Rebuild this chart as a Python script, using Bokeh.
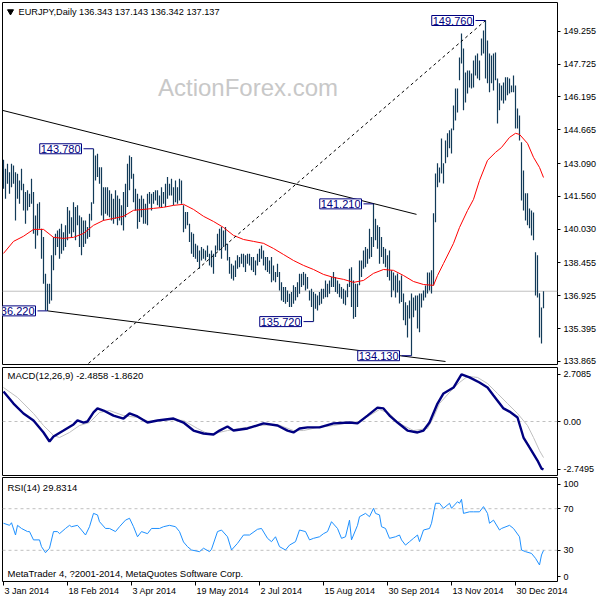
from bokeh.plotting import figure
from bokeh.layouts import column
from bokeh.models import (ColumnDataSource, Span, Label, FixedTicker, NumeralTickFormatter,
                          CustomJSTickFormatter, LinearAxis, Range1d)
from bokeh.embed import file_html
from bokeh.resources import INLINE

# ---------------- data ----------------
highs = [143.27,142.85,143.08,142.69,143.08,143.00,142.69,142.61,142.30,142.85,
         142.15,141.76,141.84,141.68,142.38,141.76,140.67,141.22,141.29,140.05,
         139.66,137.95,137.49,137.49,138.81,139.66,139.82,139.97,140.05,140.28,
         139.89,140.21,141.06,140.90,140.59,141.29,141.06,141.14,140.67,140.59,
         140.44,140.44,140.13,140.75,141.29,143.78,143.47,143.55,142.92,142.92,
         141.99,141.99,141.99,141.84,141.68,141.45,141.84,141.60,141.45,141.14,
         141.76,142.15,143.08,143.47,143.39,142.61,141.92,141.68,141.45,141.60,
         141.45,141.22,141.68,141.76,141.68,141.76,141.84,141.84,141.60,141.99,
         141.76,142.15,142.46,142.15,142.38,141.99,142.30,141.99,142.38,142.30,
         141.14,140.83,140.83,140.28,139.89,139.82,139.35,139.27,139.04,139.20,
         139.12,139.04,139.27,138.88,139.04,138.88,139.27,139.82,140.05,140.13,
         139.97,140.13,139.35,138.73,138.42,138.34,138.57,138.81,138.73,138.88,
         138.88,138.81,138.88,138.88,138.73,138.73,138.57,138.88,139.12,139.27,
         139.04,138.73,138.73,138.57,138.73,138.34,138.03,138.42,138.03,137.56,
         137.33,137.33,137.17,137.02,137.10,137.41,137.33,137.56,137.95,137.95,
         138.03,137.95,137.80,137.17,137.25,137.10,137.02,136.94,137.10,137.25,
         137.25,137.64,137.49,137.64,137.80,138.03,137.80,137.64,137.49,137.33,
         137.25,137.17,137.49,138.19,138.26,137.64,137.49,137.49,138.57,138.57,
         139.04,139.20,139.12,140.05,139.66,141.21,140.52,140.21,140.13,139.66,
         139.20,139.12,138.81,139.04,138.11,138.01,137.87,137.96,137.64,137.87,
         137.03,136.62,136.48,136.71,137.03,136.85,136.94,136.94,137.03,137.03,
         137.17,137.40,138.01,138.01,138.11,140.77,142.63,143.10,142.91,144.26,
         143.10,144.17,144.50,144.64,144.73,145.80,146.59,146.59,148.04,149.16,
         148.46,147.34,147.43,147.43,147.29,147.90,148.13,148.22,147.90,148.92,
         149.30,149.76,148.83,148.22,148.13,148.22,148.27,147.06,146.83,146.73,
         146.87,147.11,147.11,147.06,146.73,147.20,146.73,145.66,145.33,144.08,
         142.77,141.70,141.70,141.00,140.90,140.81,138.95,138.81,137.04,136.38,
         137.14]
lows = [141.92,141.45,142.15,141.68,141.99,142.15,140.44,141.45,141.22,141.84,
        140.90,140.28,140.90,141.06,141.22,139.82,139.12,139.74,140.05,138.65,
        137.49,136.24,136.22,136.55,136.71,138.11,138.81,139.20,138.65,138.88,
        139.04,139.20,139.51,139.82,139.66,139.89,139.51,140.21,139.20,138.81,
        139.20,139.35,139.58,139.66,140.44,141.22,142.30,142.46,142.15,140.67,
        140.44,140.75,140.67,140.59,140.44,140.28,140.52,140.21,140.44,140.21,
        139.97,140.59,141.06,141.84,142.38,141.29,140.90,140.05,140.36,140.59,
        140.28,140.28,140.21,141.22,140.90,141.22,141.37,141.14,141.06,141.06,
        141.22,141.06,141.45,141.60,141.60,141.14,141.29,141.22,141.37,141.22,
        139.89,140.05,140.21,139.43,138.88,138.73,138.65,138.50,138.19,138.57,
        138.65,138.57,138.73,138.34,138.26,137.95,138.73,139.04,139.04,138.65,
        139.20,139.04,138.57,137.95,137.72,137.64,137.80,138.19,138.26,138.42,
        138.26,138.03,138.42,138.34,138.11,138.03,137.88,138.34,138.50,138.65,
        138.34,138.11,138.03,137.95,137.56,137.64,137.56,137.80,137.17,136.71,
        136.63,136.55,136.63,136.40,136.40,136.55,136.71,136.86,137.02,137.33,
        137.41,137.17,137.25,136.71,136.40,135.72,136.32,136.24,136.48,136.55,
        136.79,136.86,136.86,137.02,137.33,137.33,137.10,137.02,136.86,136.79,
        136.55,136.48,136.86,137.33,136.40,135.85,135.93,136.40,137.41,137.80,
        138.19,138.26,138.42,138.65,138.73,139.20,139.51,139.12,138.42,138.73,
        138.42,138.26,137.80,137.64,136.86,137.17,136.85,137.08,136.57,136.63,
        135.78,135.55,134.98,135.87,134.13,135.92,136.24,135.40,135.22,136.38,
        136.71,136.85,137.03,137.17,137.03,137.40,140.35,141.98,142.21,142.63,
        142.16,143.10,143.38,143.80,143.56,144.64,145.10,145.47,146.97,147.76,
        145.57,145.94,146.36,146.64,146.59,146.64,147.20,147.06,146.97,148.13,
        148.22,147.06,146.83,146.41,146.83,146.50,146.97,144.96,145.57,146.03,
        145.89,146.03,146.27,146.36,146.41,146.41,144.73,144.73,144.17,141.37,
        140.90,140.44,140.21,140.07,139.74,139.51,136.94,136.85,134.98,134.70,
        136.34]

ma_idx = [0,5,10,15,20,25,30,35,40,45,50,55,60,65,70,75,80,85,90,95,100,105,110,115,
          120,125,130,135,140,145,150,155,160,165,170,175,180,185,190,195,200,205,210,
          215,217,220,225,228,232,235,238,242,246,249,253,256,258,262,265,268,270]
ma_val = [138.90,139.46,139.70,140.02,140.02,139.65,139.60,139.65,139.83,140.21,140.44,
          140.53,140.63,140.91,140.95,141.00,141.05,141.14,141.19,140.95,140.63,140.39,
          140.11,139.74,139.55,139.46,139.37,139.13,138.85,138.57,138.34,138.15,137.92,
          137.78,137.69,137.55,137.64,137.97,138.15,138.11,137.87,137.59,137.45,137.41,
          137.87,138.43,139.37,140.11,140.90,141.42,142.30,143.24,143.61,143.84,144.31,
          144.50,144.45,144.03,143.38,142.91,142.44]

macd_idx = [0,5,10,15,20,23,25,30,35,37,40,42,45,47,50,55,60,63,67,72,77,85,90,95,100,
            105,108,112,115,122,130,137,142,145,148,152,158,165,173,177,182,187,190,193,
            197,202,207,210,213,217,220,225,229,233,238,242,245,250,253,257,260,263,267,
            269,270]
macd_val = [1.72,1.03,0.46,0.06,-0.63,-1.15,-0.86,-0.52,-0.17,0.06,-0.06,0.0,0.52,0.75,
            0.63,0.34,0.17,0.46,0.29,-0.06,0.06,0.17,-0.06,-0.52,-0.69,-0.75,-0.52,-0.29,
            -0.52,-0.40,-0.11,-0.23,-0.52,-0.63,-0.40,-0.34,-0.34,-0.11,-0.06,-0.11,0.34,
            0.80,0.75,0.34,-0.06,-0.52,-0.63,-0.52,-0.06,1.03,1.61,1.95,2.71,2.53,2.24,
            1.95,1.49,0.75,0.57,0.23,-0.92,-1.49,-2.24,-2.70,-2.75]
sig_idx = [0,7,15,20,25,28,33,38,43,48,53,60,67,73,82,90,97,103,112,118,128,137,145,150,
           157,165,173,178,183,188,193,198,205,212,215,218,223,228,232,237,242,247,252,
           257,262,265,268,270]
sig_val = [1.95,1.38,0.46,-0.23,-0.80,-0.92,-0.63,-0.23,-0.06,0.52,0.63,0.34,0.23,0.0,
           0.11,0.06,-0.40,-0.75,-0.52,-0.40,-0.23,-0.17,-0.52,-0.52,-0.34,-0.23,-0.06,
           0.0,0.34,0.69,0.46,-0.11,-0.52,-0.40,0.23,1.03,1.67,2.24,2.59,2.53,2.18,1.61,
           1.03,0.46,-0.23,-0.92,-1.67,-2.07]

rsi_idx = [0,3,4,6,7,9,12,13,15,18,19,21,23,25,27,28,31,33,34,37,39,41,43,45,47,48,51,53,
           56,58,61,63,65,67,69,72,74,78,80,83,86,88,90,92,94,98,100,103,104,107,109,112,
           114,117,120,123,127,129,132,134,136,138,141,143,146,148,151,153,155,158,160,
           162,164,167,169,171,173,174,177,178,181,183,185,186,188,189,191,193,196,198,
           199,201,203,205,207,208,210,213,214,216,218,220,223,224,227,228,229,230,233,
           235,238,240,242,243,245,248,249,253,255,258,259,261,264,266,268,269,270]
rsi_val = [56,54,56.5,44.7,54,51,48,48,40,40,33.5,27.7,32,48,48,46,51,54,52.7,54,49.5,
           44.7,52.7,65.5,64,57.5,51,51,48,52.7,59,60.8,52.7,43,48,46,51,51,52.7,54,52.7,
           48,38,33.5,30.3,28.7,32,28.7,31,48,49.5,43,30.3,36.7,44.7,44.7,50.2,51,41.5,
           38.3,43,33.5,30.3,35,38.3,49.5,48,40,41.5,43,46,48,57.5,51,41.5,43,59,40,54,
           62.3,65.5,62.3,70.4,65.5,64,52.7,51,41.5,43,44.7,40,35,38.3,41.5,44.7,38.3,
           49.5,51,56,75.2,75.2,70.4,75.2,70.4,76.7,75.2,79,65.5,67,67,67,72,65.5,56,59,
           49.5,51,54,51,43,30.3,28.7,27,22.3,15.9,25.5,29.8]

# trend lines (bar index, price)
tl_x0 = [-0.5, 22, 42.5]
tl_y0 = [145.57, 136.22, 133.77]
tl_x1 = [206.5, 221, 241]
tl_y1 = [140.72, 133.86, 149.76]

# annotated highs / lows
ann_idx = [45, 241, 185, 155, 204, 22]
ann_val = [143.78, 149.76, 141.21, 135.72, 134.13, 136.22]
ann_txt = ["143.780", "149.760", "141.210", "135.720", "134.130", "136.220"]

price_ticks = [149.255, 147.725, 146.195, 144.665, 143.090, 141.560, 140.030, 138.455,
               136.925, 135.395, 133.865]
macd_ticks = [2.7085, 0.0, -2.7495]
last_price = 137.137

date_idx = [0, 32, 64, 96, 128, 160, 192, 224, 256]
date_lbl = ["3 Jan 2014", "18 Feb 2014", "3 Apr 2014", "19 May 2014", "2 Jul 2014",
            "15 Aug 2014", "30 Sep 2014", "13 Nov 2014", "30 Dec 2014"]
# approximate label widths (px) so the text can start just right of its tick
date_w = [44.5, 50.5, 44, 52, 41.5, 51, 51, 51, 51]

# ---------------- styling ----------------
FONT = "Liberation Sans"
BAR_C = "#123a58"
NAVY = "#000080"
PX_PER_BAR = 2.0

XR = Range1d(-0.5, 277.0)


def make_fig(h, y0, y1, top, bottom):
    p = figure(width=600, height=h, x_range=XR, y_range=Range1d(y0, y1),
               output_backend="svg", toolbar_location=None,
               x_axis_location=None, y_axis_location="right",
               min_border_left=2, min_border_right=43,
               min_border_top=top, min_border_bottom=bottom)
    p.xgrid.visible = False
    p.ygrid.visible = False
    p.outline_line_color = "black"
    p.outline_line_width = 1
    p.background_fill_color = "white"
    p.border_fill_color = "white"
    ax = p.yaxis[0]
    ax.axis_line_color = None
    ax.major_tick_out = 3
    ax.major_tick_in = 0
    ax.minor_tick_out = 0
    ax.minor_tick_in = 0
    ax.major_tick_line_color = "black"
    ax.major_label_standoff = 3
    ax.major_label_text_font = FONT
    ax.major_label_text_font_size = "9px"
    ax.major_label_text_color = "black"
    return p


# ---- main price panel ----
p1 = make_fig(365, 133.72, 150.60, 2, 1)
p1.yaxis[0].ticker = FixedTicker(ticks=price_ticks)
p1.yaxis[0].formatter = NumeralTickFormatter(format="0.000")

p1.add_layout(Span(location=last_price, dimension="width", line_color="#c0c0c0",
                   line_width=1, level="underlay"))

idx = list(range(len(highs)))
bars = ColumnDataSource(dict(i=idx, h=highs, l=lows))
p1.segment(x0="i", y0="l", x1="i", y1="h", source=bars, line_color=BAR_C, line_width=1.2)
p1.line(ma_idx, ma_val, line_color="red", line_width=1)

p1.segment(x0=tl_x0[:2], y0=tl_y0[:2], x1=tl_x1[:2], y1=tl_y1[:2],
           line_color="black", line_width=1)
p1.segment(x0=tl_x0[2:], y0=tl_y0[2:], x1=tl_x1[2:], y1=tl_y1[2:],
           line_color="black", line_width=1, line_dash="3 3")

for i, v, t in zip(ann_idx, ann_val, ann_txt):
    p1.segment(x0=[i - 5], y0=[v], x1=[i], y1=[v], line_color=NAVY, line_width=1)
    p1.add_layout(Label(x=i - 5, y=v, x_offset=-2, text=t, text_align="right",
                        text_baseline="middle", text_font=FONT, text_font_size="11px",
                        text_color=NAVY, background_fill_color="white",
                        border_line_color=NAVY, border_line_width=1, padding=1))

p1.scatter([3.5], [150.18], marker="inverted_triangle", size=6, fill_color="black",
           line_color="black")
p1.add_layout(Label(x=-0.5, y=150.18, x_offset=16, text_baseline="middle",
                    text="EURJPY,Daily  136.343 137.143 136.342 137.137",
                    text_font=FONT, text_font_size="9.2px", text_color="black"))
p1.add_layout(Label(x=77.25, y=146.62, text="ActionForex.com", text_baseline="alphabetic",
                    text_font=FONT, text_font_size="24px", text_color="#c8c8c8"))
p1.add_layout(Label(x=277.0, y=last_price, x_offset=2, text="137.137",
                    text_baseline="middle", text_font=FONT, text_font_size="9.5px",
                    text_color="white", background_fill_color="black", padding=1))

# ---- MACD panel ----
p2 = make_fig(111, -3.10, 3.10, 2, 1)
p2.yaxis[0].ticker = FixedTicker(ticks=macd_ticks)
p2.yaxis[0].formatter = CustomJSTickFormatter(
    code="return tick == 0 ? '0.00' : tick.toFixed(4);")
p2.add_layout(Span(location=0, dimension="width", line_color="#c0c0c0", line_width=1,
                   line_dash="3 3", level="underlay"))
p2.line(sig_idx, sig_val, line_color="#c0c0c0", line_width=1)
p2.line(macd_idx, macd_val, line_color=NAVY, line_width=2.4)
p2.add_layout(Label(x=-0.5, y=2.64, x_offset=5, text_baseline="middle",
                    text="MACD(12,26,9) -2.4858 -1.8620", text_font=FONT,
                    text_font_size="9.5px", text_color="black"))

# ---- RSI panel ----
p3 = make_fig(124, 0, 100, 1, 19)
p3.yaxis[0].ticker = FixedTicker(ticks=[93.3, 70, 30, 4.8])
p3.yaxis[0].formatter = CustomJSTickFormatter(
    code="if (tick > 90) return '100'; if (tick < 10) return '0'; return tick.toFixed(0);")
for lv in (70, 30):
    p3.add_layout(Span(location=lv, dimension="width", line_color="#c0c0c0", line_width=1,
                       line_dash="3 3", level="underlay"))
p3.line(rsi_idx, rsi_val, line_color="#1e90ff", line_width=1)
p3.add_layout(Label(x=-0.5, y=90.4, x_offset=5, text_baseline="middle",
                    text="RSI(14) 29.8314", text_font=FONT, text_font_size="9.5px",
                    text_color="black"))
p3.add_layout(Label(x=-0.5, y=7.7, x_offset=5, text_baseline="middle",
                    text="MetaTrader 4, ?2001-2014, MetaQuotes Software Corp.",
                    text_font=FONT, text_font_size="9.5px", text_color="black"))

# tick marks at the dates (labels hidden)
xa = LinearAxis(ticker=FixedTicker(ticks=date_idx))
xa.axis_line_color = None
xa.major_tick_out = 4
xa.major_tick_in = 0
xa.minor_tick_out = 0
xa.minor_tick_in = 0
xa.major_label_standoff = 0
xa.major_label_text_font_size = "0px"
xa.formatter = CustomJSTickFormatter(code="return '';")
p3.add_layout(xa, "below")

# date texts, each starting just right of its tick
centers = [d + (1 + w / 2.0) / PX_PER_BAR for d, w in zip(date_idx, date_w)]
xb = LinearAxis(ticker=FixedTicker(ticks=centers))
xb.axis_line_color = None
xb.major_tick_out = 0
xb.major_tick_in = 0
xb.minor_tick_out = 0
xb.minor_tick_in = 0
xb.major_label_standoff = 0
xb.major_label_text_font = FONT
xb.major_label_text_font_size = "9px"
xb.major_label_text_color = "black"
xb.formatter = CustomJSTickFormatter(args=dict(labels=date_lbl),
                                     code="return labels[index];")
p3.add_layout(xb, "below")

layout = column(p1, p2, p3, spacing=0)
open("out.html", "w").write(file_html(layout, INLINE))
